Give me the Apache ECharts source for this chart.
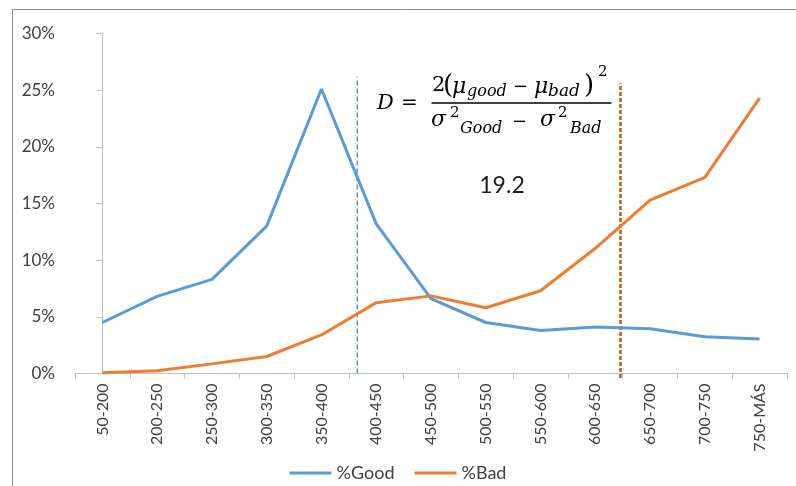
<!DOCTYPE html>
<html>
<head>
<meta charset="utf-8">
<script src="https://cdn.jsdelivr.net/npm/echarts@6/dist/echarts.min.js"></script>
<style>
  html, body { margin: 0; padding: 0; background: #ffffff; }
  #chart { width: 796px; height: 486px; }
</style>
</head>
<body>
<div id="chart"></div>
<script>
// Score bands
const categories = ['50-200', '200-250', '250-300', '300-350', '350-400', '400-450', '450-500',
                    '500-550', '550-600', '600-650', '650-700', '700-750', '750-MÁS'];
// Share of good / bad accounts per band (%)
const goodPct = [4.5, 6.8, 8.3, 13.0, 25.1, 13.2, 6.6, 4.5, 3.8, 4.1, 3.95, 3.25, 3.05];
const badPct  = [0.07, 0.25, 0.85, 1.5, 3.4, 6.25, 6.85, 5.8, 7.3, 11.05, 15.3, 17.3, 24.3];
// Y axis ticks (%)
const yTicks = [0, 5, 10, 15, 20, 25, 30];
// Mean positions of each population, in band-index units
const meanGood = 4.654;
const meanBad = 9.46;
// Divergence statistic
const divergence = '19.2';

const labelFont = 'Lato';
const labelColor = '#404040';
const mathFont = '"DejaVu Serif"';

const chart = echarts.init(document.getElementById('chart'), null, { renderer: 'canvas' });

// Formula pieces: [text, x, y, size, italic]
const formulaParts = [
  ['D', 377, 104, 21, true],
  ['=', 401, 104, 20, false],
  ['2', 432, 86, 21, false],
  ['(', 443, 86, 26, false],
  ['\u03bc', 452, 87, 22, true],
  ['good', 467, 92, 16, true],
  ['\u2212', 513, 87, 18, false],
  ['\u03bc', 534, 87, 22, true],
  ['bad', 548, 92, 17, true],
  [')', 584, 86, 26, false],
  ['2', 598, 72, 15, false],
  ['\u03c3', 431, 120, 22, true],
  ['2', 450, 113, 15, false],
  ['Good', 460, 129, 16, true],
  ['\u2212', 512, 122, 18, false],
  ['\u03c3', 540, 120, 22, true],
  ['2', 558, 113, 15, false],
  ['Bad', 570, 129, 16, true]
];

const graphics = formulaParts.map(p => ({
  type: 'text',
  silent: true,
  style: {
    text: p[0], x: p[1], y: p[2],
    font: (p[4] ? 'italic ' : '') + p[3] + 'px ' + mathFont,
    fill: '#000000',
    textAlign: 'left',
    textVerticalAlign: 'middle'
  }
}));

graphics.push({
  type: 'line', silent: true,
  shape: { x1: 431.5, y1: 103, x2: 611.5, y2: 103 },
  style: { stroke: '#000000', lineWidth: 1.5 }
});
graphics.push({
  type: 'text', silent: true,
  style: {
    text: divergence, x: 502, y: 186,
    font: '23px ' + labelFont, fill: '#1a1a1a',
    textAlign: 'center', textVerticalAlign: 'middle'
  }
});
// chart-area frame
graphics.push({
  type: 'rect', silent: true, z: -1,
  shape: { x: 12.5, y: 9.5, width: 800, height: 500 },
  style: { fill: 'none', stroke: '#8c8c8c', lineWidth: 1 }
});

const option = {
  animation: false,
  backgroundColor: '#ffffff',
  grid: { left: 75, right: 9, top: 33.5, bottom: 112.5, containLabel: false },
  legend: {
    data: [
      { name: '%Good', icon: 'rect' },
      { name: '%Bad', icon: 'rect' }
    ],
    left: 'center',
    top: 459,
    itemWidth: 42,
    itemHeight: 3,
    itemGap: 20,
    textStyle: { fontFamily: labelFont, fontSize: 18, color: labelColor }
  },
  xAxis: [
    {
      type: 'category',
      data: categories,
      boundaryGap: true,
      axisLine: { lineStyle: { color: '#bfbfbf', width: 1 } },
      axisTick: { show: true, alignWithLabel: false, length: 5, lineStyle: { color: '#bfbfbf' } },
      axisLabel: {
        rotate: 90, margin: 10, interval: 0,
        fontFamily: labelFont, fontSize: 16, color: labelColor
      },
      splitLine: { show: false }
    },
    {
      type: 'value',
      min: -0.5, max: 12.5,
      show: false
    }
  ],
  yAxis: {
    type: 'value',
    min: yTicks[0],
    max: yTicks[yTicks.length - 1],
    interval: yTicks[1] - yTicks[0],
    axisLine: { show: true, lineStyle: { color: '#bfbfbf', width: 1 } },
    axisTick: { show: true, length: 6, lineStyle: { color: '#bfbfbf' } },
    axisLabel: {
      margin: 20,
      fontFamily: labelFont, fontSize: 17, color: labelColor,
      formatter: '{value}%'
    },
    splitLine: { show: false }
  },
  series: [
    {
      name: '%Good', type: 'line', data: goodPct,
      symbol: 'none', smooth: false,
      lineStyle: { color: '#5B9BD5', width: 3 },
      itemStyle: { color: '#5B9BD5' },
      z: 3
    },
    {
      name: '%Bad', type: 'line', data: badPct,
      symbol: 'none', smooth: false,
      lineStyle: { color: '#ED7D31', width: 3 },
      itemStyle: { color: '#ED7D31' },
      z: 3
    },
    {
      name: 'meanGood', type: 'line', xAxisIndex: 1,
      data: [[meanGood, 0], [meanGood, 26.2]],
      symbol: 'none', clip: false, silent: true,
      lineStyle: { color: '#5B9BD5', width: 1.5, type: [5, 3] },
      z: 2
    },
    {
      name: 'meanBad', type: 'line', xAxisIndex: 1,
      data: [[meanBad, -0.4], [meanBad, 25.6]],
      symbol: 'none', clip: false, silent: true,
      lineStyle: { color: '#C55A11', width: 2.5, type: [4, 2] },
      z: 2
    }
  ],
  graphic: graphics
};

chart.setOption(option);
</script>
</body>
</html>
